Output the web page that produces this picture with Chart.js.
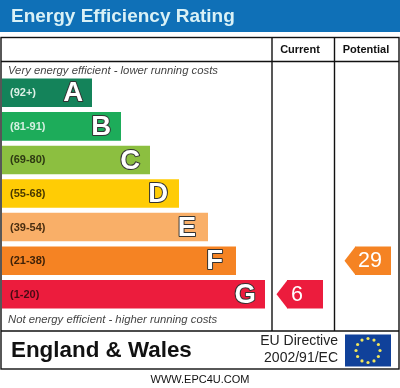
<!DOCTYPE html>
<html>
<head>
<meta charset="utf-8">
<style>
  html, body { margin: 0; padding: 0; background: #fff; }
  canvas { display: block; }
</style>
<script src="https://cdn.jsdelivr.net/npm/chart.js@4"></script>
</head>
<body>
<canvas id="epc" width="400" height="388"></canvas>
<script>
const bandas = ['(92+)', '(81-91)', '(69-80)', '(55-68)', '(39-54)', '(21-38)', '(1-20)'];
const letras = ['A', 'B', 'C', 'D', 'E', 'F', 'G'];
const largos = [90, 119, 148, 177, 206, 234, 263];
const colores = ['#14835A', '#1DAC5A', '#8CBF40', '#FFCC05', '#F9AF68', '#F58323', '#EC1C3D'];
const colorBanda = ['#DDF0E6', '#D5F0E0', '#2E3A12', '#4A3A00', '#4A2E10', '#3F2208', '#4A0A14'];
const actual = { valor: 6, banda: '(1-20)', desde: 285, hasta: 321 };
const potencial = { valor: 29, banda: '(21-38)', desde: 353, hasta: 389 };

const FUENTE = '"Liberation Sans", Arial, sans-serif';
const margenLetra = [9, 10, 10, 11, 12, 13, 9];

function texto(c, s, x, y, font, color, align) {
  c.font = font;
  c.fillStyle = color;
  c.textAlign = align || 'left';
  c.textBaseline = 'middle';
  c.fillText(s, x, y);
}

function linea(c, x1, y1, x2, y2) {
  c.beginPath();
  c.moveTo(x1, y1);
  c.lineTo(x2, y2);
  c.stroke();
}

// cabecera, marco, pie de la etiqueta
const marco = {
  id: 'marco',
  beforeDatasetsDraw(chart) {
    const c = chart.ctx;
    c.save();
    c.fillStyle = '#0F70B7';
    c.fillRect(0, 0, 400, 32);
    texto(c, 'Energy Efficiency Rating', 11, 16.5, 'bold 19px ' + FUENTE, '#D9F1F6');
    c.strokeStyle = '#111';
    c.lineWidth = 1.4;
    c.strokeRect(1, 37.5, 398, 331.5);
    linea(c, 1, 61.5, 399, 61.5);
    linea(c, 1, 331, 399, 331);
    linea(c, 272, 37.5, 272, 331);
    linea(c, 334.5, 37.5, 334.5, 331);
    texto(c, 'Current', 300, 49.5, 'bold 11px ' + FUENTE, '#111', 'center');
    texto(c, 'Potential', 366, 49.5, 'bold 11px ' + FUENTE, '#111', 'center');
    texto(c, 'Very energy efficient - lower running costs', 8, 71, 'italic 11.3px ' + FUENTE, '#444');
    texto(c, 'Not energy efficient - higher running costs', 8, 320, 'italic 11.3px ' + FUENTE, '#444');
    texto(c, 'England & Wales', 11, 350.5, 'bold 22.4px ' + FUENTE, '#111');
    texto(c, 'EU Directive', 338, 341.5, '14px ' + FUENTE, '#222', 'right');
    texto(c, '2002/91/EC', 338, 358.5, '14px ' + FUENTE, '#222', 'right');
    texto(c, 'WWW.EPC4U.COM', 200, 379.5, '11px ' + FUENTE, '#111', 'center');
    // bandera UE
    c.fillStyle = '#10419A';
    c.fillRect(345, 334.5, 46, 32);
    c.fillStyle = '#F2E65A';
    for (let i = 0; i < 12; i++) {
      const a = i * Math.PI / 6;
      c.beginPath();
      c.arc(368 + 12 * Math.sin(a), 350.5 - 12 * Math.cos(a), 1.6, 0, Math.PI * 2);
      c.fill();
    }
    c.restore();
  },
  afterDatasetsDraw(chart) {
    const c = chart.ctx;
    c.save();
    const barras = chart.getDatasetMeta(0).data;
    barras.forEach((b, i) => {
      const h = chart.scales.y.getPixelForValue(i);
      texto(c, bandas[i], 10, h + 0.5, 'bold 11px ' + FUENTE, colorBanda[i]);
      c.font = 'bold 27.5px ' + FUENTE;
      c.textAlign = 'right';
      c.textBaseline = 'middle';
      c.lineWidth = 2;
      c.lineJoin = 'round';
      c.strokeStyle = '#333';
      c.strokeText(letras[i], b.x - margenLetra[i], h + 1);
      c.fillStyle = '#fff';
      c.fillText(letras[i], b.x - margenLetra[i], h + 1);
    });
    // flechas de actual y potencial
    [[1, actual, -8], [2, potencial, -3]].forEach(([d, f, dx]) => {
      const b = chart.getDatasetMeta(d).data[bandas.indexOf(f.banda)];
      const alto = b.height / 2;
      c.fillStyle = b.options.backgroundColor;
      c.beginPath();
      c.moveTo(b.base + 0.5, b.y - alto);
      c.lineTo(b.base - 10.5, b.y);
      c.lineTo(b.base + 0.5, b.y + alto);
      c.closePath();
      c.fill();
      texto(c, String(f.valor), (b.x + b.base) / 2 + dx, b.y + 0.5, '21.5px ' + FUENTE, '#fff', 'center');
    });
    c.restore();
  }
};

function flecha(f) {
  return bandas.map(b => b === f.banda ? [f.desde, f.hasta] : null);
}

new Chart(document.getElementById('epc').getContext('2d'), {
  type: 'bar',
  data: {
    labels: bandas,
    datasets: [
      { data: largos, backgroundColor: colores, grouped: false },
      { data: flecha(actual), backgroundColor: colores, grouped: false },
      { data: flecha(potencial), backgroundColor: colores, grouped: false }
    ]
  },
  options: {
    indexAxis: 'y',
    responsive: false,
    animation: false,
    devicePixelRatio: 1,
    layout: { padding: { top: 76, bottom: 77, left: 2, right: 0 } },
    datasets: { bar: { barPercentage: 0.85, categoryPercentage: 1 } },
    scales: {
      x: { display: false, min: 0, max: 398 },
      y: { display: false }
    },
    plugins: { legend: { display: false }, tooltip: { enabled: false } }
  },
  plugins: [marco]
});
</script>
</body>
</html>
